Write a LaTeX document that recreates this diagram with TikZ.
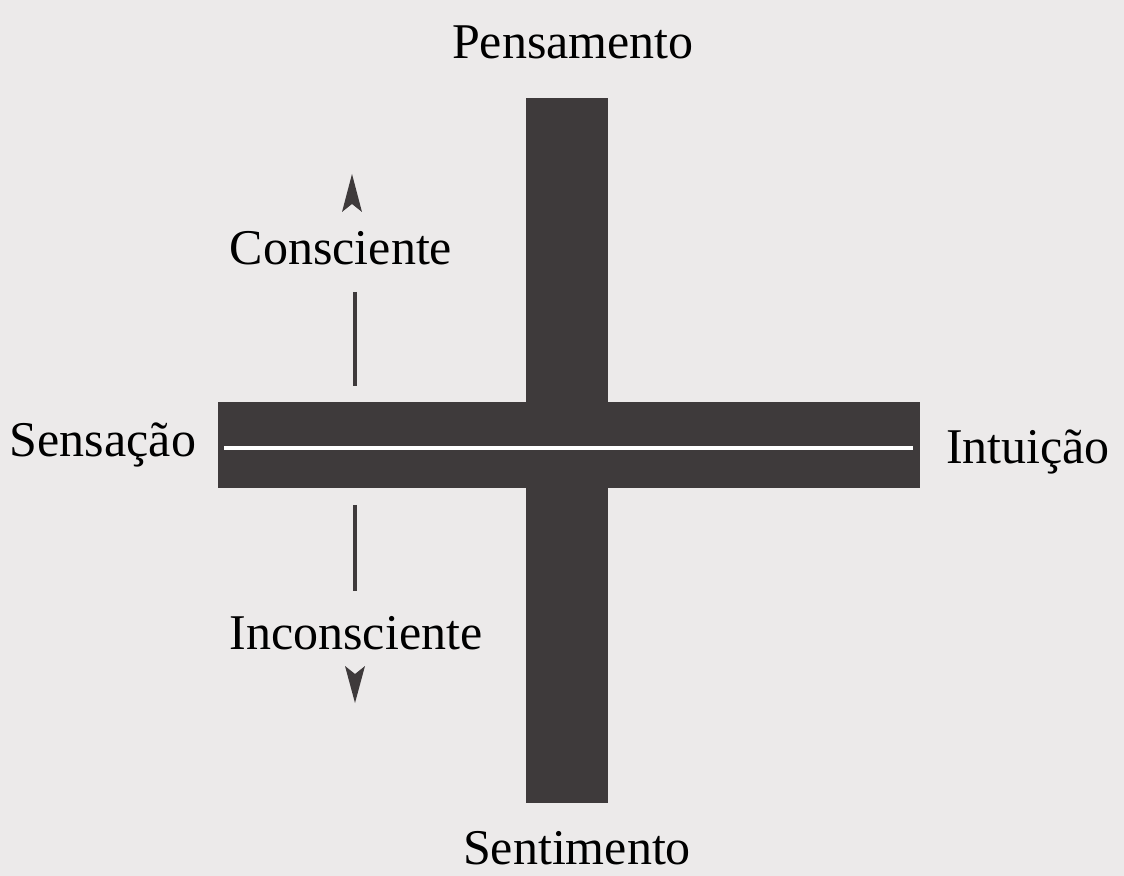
\documentclass[tikz,border=0pt]{standalone}
\usepackage{fontspec}
\setmainfont{Liberation Serif}
\definecolor{barcol}{HTML}{3E3A3B}
\definecolor{paper}{HTML}{ECEAEA}
\begin{document}
\begin{tikzpicture}[x=0.5pt,y=-0.5pt]
  \fill[paper] (0,0) rectangle (1124,876);
  \useasboundingbox (0,0) rectangle (1124,876);
  % the cross
  \fill[barcol] (526,98) rectangle (608,803);
  \fill[barcol] (218,402) rectangle (920,488);
  \coordinate (wl) at (224,448);
  \coordinate (wr) at (913,448);
  \draw[white,line width=2pt] (wl) -- (wr);
  % the four functions
  \node[font=\fontsize{25}{30}\selectfont] (pens) at (573,42) {Pensamento};
  \node[font=\fontsize{25}{30}\selectfont] (sent) at (577,848) {Sentimento};
  \node[font=\fontsize{25}{30}\selectfont] (sens) at (103,445) {Sensação};
  \node[font=\fontsize{25}{30}\selectfont] (intu) at (1028,452) {Intuição};
  % conscious / unconscious
  \node[font=\fontsize{25}{30}\selectfont] (cons) at (341,248) {Consciente};
  \node[font=\fontsize{25}{30}\selectfont] (inco) at (356,633) {Inconsciente};
  \coordinate (c1) at (355,292);
  \coordinate (c2) at (355,386);
  \coordinate (i1) at (355,505);
  \coordinate (i2) at (355,591);
  \draw[barcol,line width=1.8pt] (c1) -- (c2);
  \draw[barcol,line width=1.8pt] (i1) -- (i2);
  \fill[barcol] (352,174) -- (362,212) -- (352,204) -- (342,212) -- cycle;
  \fill[barcol] (355,703) -- (345,666) -- (355,674) -- (365,666) -- cycle;
\end{tikzpicture}
\end{document}
